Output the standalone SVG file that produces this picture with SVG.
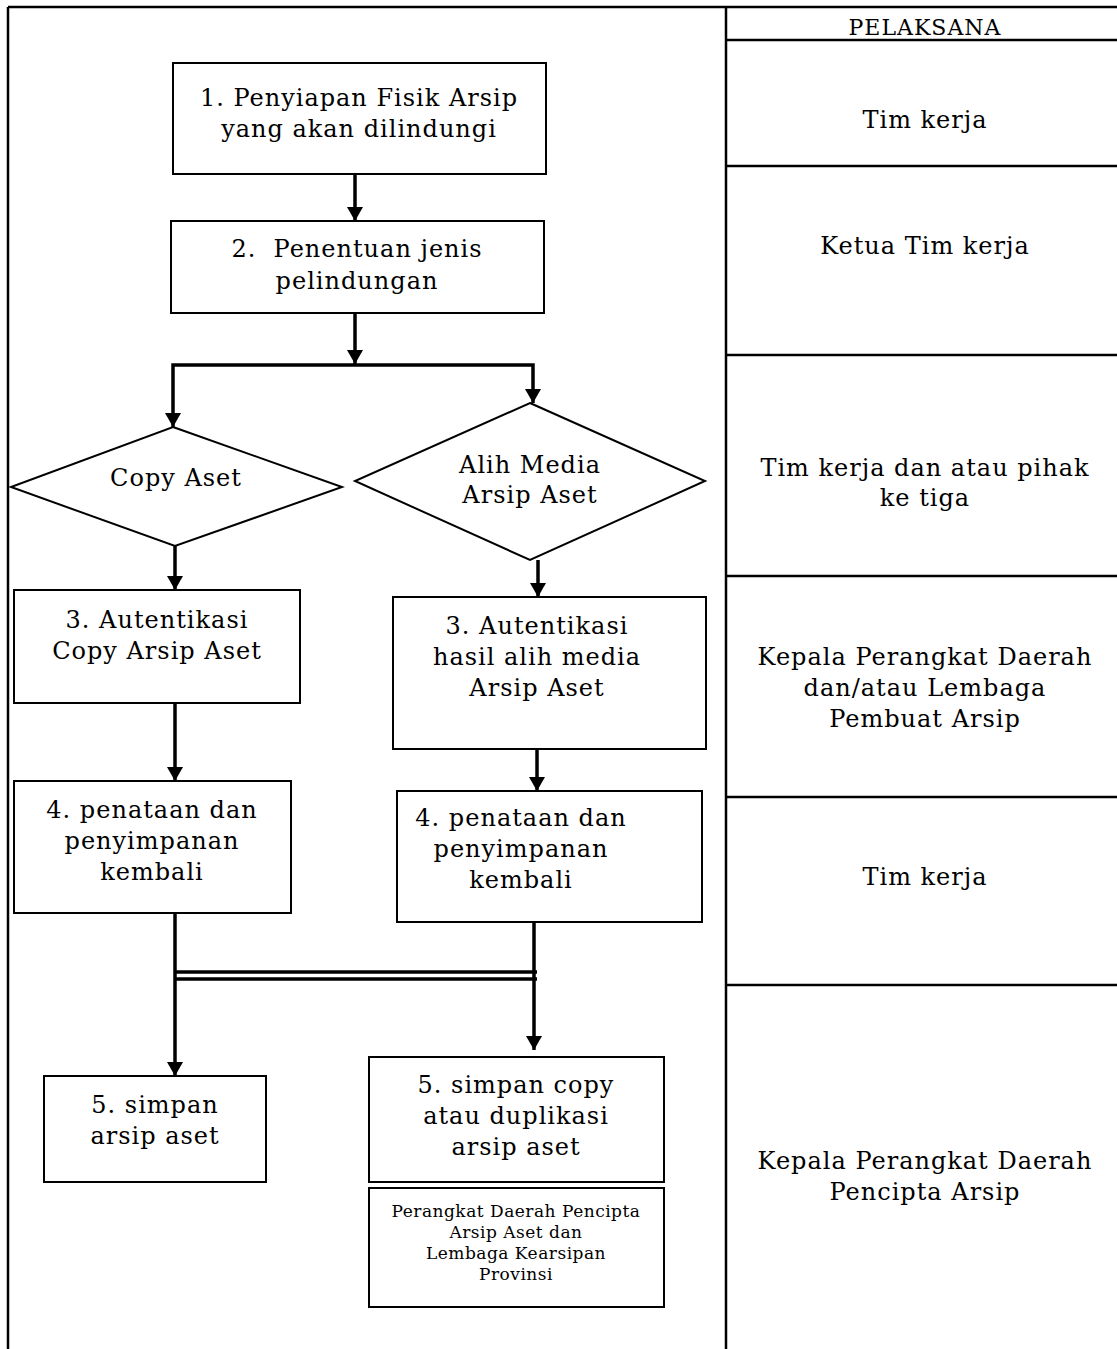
<svg xmlns="http://www.w3.org/2000/svg" width="1117" height="1349" viewBox="0 0 1117 1349">
  <style>
    text { font-family: "DejaVu Serif", "Liberation Serif", serif; font-size: 24px; letter-spacing: 1px; fill: #000; text-anchor: middle; }
    .small { font-size: 17px; letter-spacing: 0.5px; }
    .box { fill: #fff; stroke: #000; stroke-width: 2; }
    .frame { fill: none; stroke: #000; stroke-width: 2.5; }
    .conn { fill: none; stroke: #000; stroke-width: 3.5; }
  </style>
  <defs>
    <marker id="arrow" viewBox="0 0 14 16" refX="14" refY="8" markerWidth="14" markerHeight="16" markerUnits="userSpaceOnUse" orient="auto">
      <path d="M0,0 L14,8 L0,16 Z" fill="#000"/>
    </marker>
  </defs>
  <rect width="1117" height="1349" fill="#fff"/>

  <!-- outer frame and executor column -->
  <g id="frame">
    <line class="frame" x1="8" y1="7" x2="1117" y2="7"/>
    <line class="frame" x1="8" y1="7" x2="8" y2="1349"/>
    <line class="frame" x1="726" y1="7" x2="726" y2="1349"/>
    <line class="frame" x1="726" y1="40" x2="1117" y2="40"/>
    <line class="frame" x1="726" y1="166" x2="1117" y2="166"/>
    <line class="frame" x1="726" y1="355" x2="1117" y2="355"/>
    <line class="frame" x1="726" y1="576" x2="1117" y2="576"/>
    <line class="frame" x1="726" y1="797" x2="1117" y2="797"/>
    <line class="frame" x1="726" y1="985" x2="1117" y2="985"/>
  </g>
  <g id="executors">
    <text x="925" y="35" style="font-size:22px">PELAKSANA</text>
    <text x="925" y="128">Tim kerja</text>
    <text x="925" y="254">Ketua Tim kerja</text>
    <text x="925" y="476">Tim kerja dan atau pihak</text>
    <text x="925" y="506">ke tiga</text>
    <text x="925" y="665">Kepala Perangkat Daerah</text>
    <text x="925" y="696">dan/atau Lembaga</text>
    <text x="925" y="727">Pembuat Arsip</text>
    <text x="925" y="885">Tim kerja</text>
    <text x="925" y="1169">Kepala Perangkat Daerah</text>
    <text x="925" y="1200">Pencipta Arsip</text>
  </g>

  <!-- connectors -->
  <g id="connectors">
    <line class="conn" x1="355" y1="174" x2="355" y2="221" marker-end="url(#arrow)"/>
    <line class="conn" x1="355" y1="313" x2="355" y2="364" marker-end="url(#arrow)"/>
    <polyline class="conn" points="355,365 173,365 173,427" marker-end="url(#arrow)"/>
    <polyline class="conn" points="355,365 533,365 533,403" marker-end="url(#arrow)"/>
    <line class="conn" x1="175" y1="546" x2="175" y2="590" marker-end="url(#arrow)"/>
    <line class="conn" x1="538" y1="560" x2="538" y2="597" marker-end="url(#arrow)"/>
    <line class="conn" x1="175" y1="703" x2="175" y2="781" marker-end="url(#arrow)"/>
    <line class="conn" x1="537" y1="749" x2="537" y2="791" marker-end="url(#arrow)"/>
    <line class="conn" x1="175" y1="913" x2="175" y2="1076" marker-end="url(#arrow)"/>
    <line class="conn" x1="534" y1="922" x2="534" y2="1050" marker-end="url(#arrow)"/>
    <line class="conn" x1="175" y1="972" x2="537" y2="972"/>
    <line class="conn" x1="175" y1="979" x2="537" y2="979"/>
  </g>

  <!-- process steps -->
  <g id="step1">
    <rect class="box" x="173" y="63" width="373" height="111"/>
    <text x="359" y="106">1. Penyiapan Fisik Arsip</text>
    <text x="359" y="137">yang akan dilindungi</text>
  </g>
  <g id="step2">
    <rect class="box" x="171" y="221" width="373" height="92"/>
    <text x="357" y="257" xml:space="preserve">2.  Penentuan jenis</text>
    <text x="357" y="289">pelindungan</text>
  </g>
  <g id="decision-copy">
    <polygon class="box" points="173,427 342,487 175,546 11,487"/>
    <text x="176" y="486">Copy Aset</text>
  </g>
  <g id="decision-alih">
    <polygon class="box" points="530,403 705,481 530,560 355,481"/>
    <text x="530" y="473">Alih Media</text>
    <text x="530" y="503">Arsip Aset</text>
  </g>
  <g id="step3-copy">
    <rect class="box" x="14" y="590" width="286" height="113"/>
    <text x="157" y="628">3. Autentikasi</text>
    <text x="157" y="659">Copy Arsip Aset</text>
  </g>
  <g id="step3-alih">
    <rect class="box" x="393" y="597" width="313" height="152"/>
    <text x="537" y="634">3. Autentikasi</text>
    <text x="537" y="665">hasil alih media</text>
    <text x="537" y="696">Arsip Aset</text>
  </g>
  <g id="step4-copy">
    <rect class="box" x="14" y="781" width="277" height="132"/>
    <text x="152" y="818">4. penataan dan</text>
    <text x="152" y="849">penyimpanan</text>
    <text x="152" y="880">kembali</text>
  </g>
  <g id="step4-alih">
    <rect class="box" x="397" y="791" width="305" height="131"/>
    <text x="521" y="826">4. penataan dan</text>
    <text x="521" y="857">penyimpanan</text>
    <text x="521" y="888">kembali</text>
  </g>
  <g id="step5-copy">
    <rect class="box" x="44" y="1076" width="222" height="106"/>
    <text x="155" y="1113">5. simpan</text>
    <text x="155" y="1144">arsip aset</text>
  </g>
  <g id="step5-alih">
    <rect class="box" x="369" y="1057" width="295" height="125"/>
    <text x="516" y="1093">5. simpan copy</text>
    <text x="516" y="1124">atau duplikasi</text>
    <text x="516" y="1155">arsip aset</text>
  </g>
  <g id="storage-note">
    <rect class="box" x="369" y="1188" width="295" height="119"/>
    <text class="small" x="516" y="1217">Perangkat Daerah Pencipta</text>
    <text class="small" x="516" y="1238">Arsip Aset dan</text>
    <text class="small" x="516" y="1259">Lembaga Kearsipan</text>
    <text class="small" x="516" y="1280">Provinsi</text>
  </g>
</svg>
